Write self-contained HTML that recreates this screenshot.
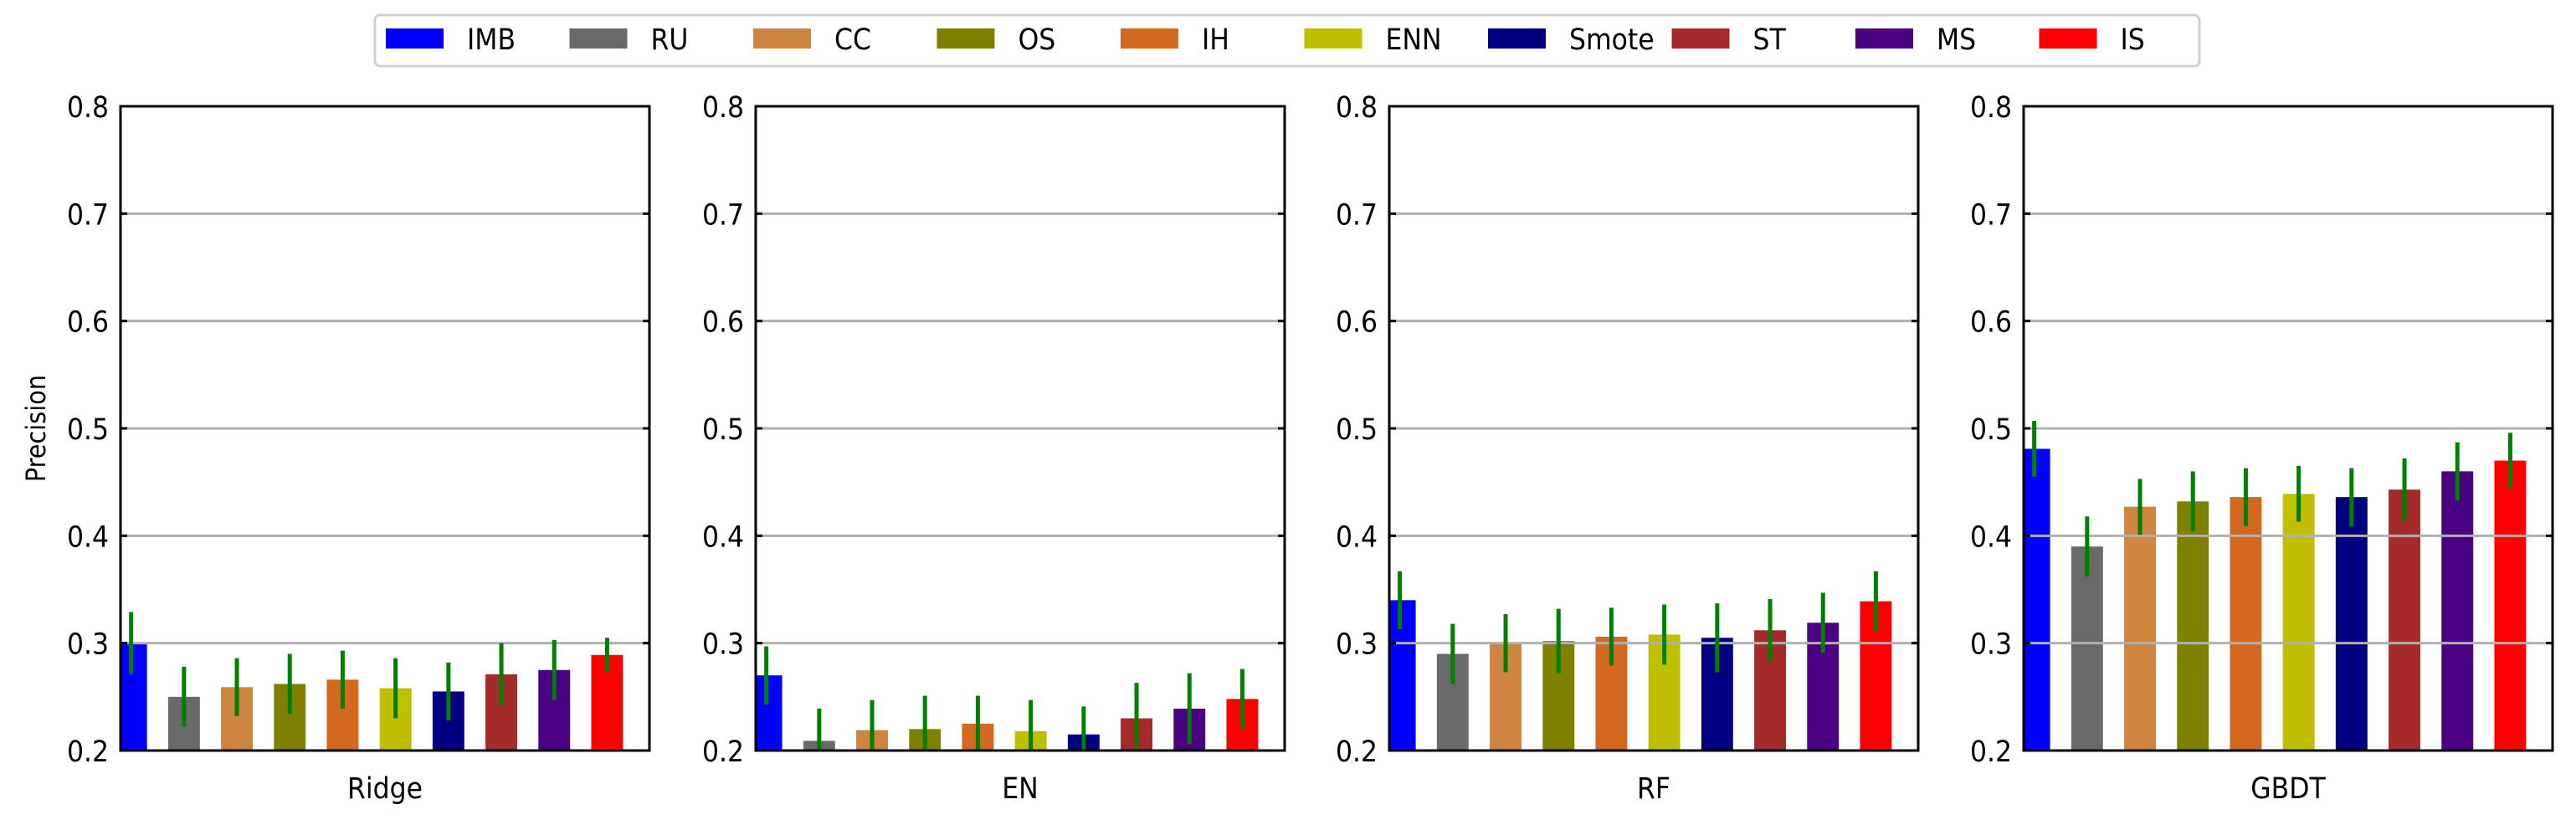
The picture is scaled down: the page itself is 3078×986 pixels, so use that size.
<!DOCTYPE html>
<html><head><meta charset="utf-8">
<style>
html,body{margin:0;padding:0;background:#fff;}
svg{display:block;font-family:"DejaVu Sans Condensed","DejaVu Sans","Liberation Sans",sans-serif;font-stretch:condensed;}
</style></head>
<body>
<svg id="chart" width="3078" height="986" viewBox="0 0 3078 986" xmlns="http://www.w3.org/2000/svg"></svg>
<script>
const methods = ["IMB","RU","CC","OS","IH","ENN","Smote","ST","MS","IS"];
const colors = ["#0000ff","#696969","#cd853f","#808000","#d2691e","#bfbf00","#000080","#a52a2a","#4b0082","#ff0000"];
const models = ["Ridge","EN","RF","GBDT"];
const ridgeVals = [0.300,0.250,0.259,0.262,0.266,0.258,0.255,0.271,0.275,0.289];
const ridgeErr  = [0.029,0.028,0.027,0.028,0.027,0.028,0.027,0.029,0.028,0.016];
const enVals    = [0.270,0.209,0.219,0.220,0.225,0.218,0.215,0.230,0.239,0.248];
const enErr     = [0.027,0.030,0.028,0.031,0.026,0.029,0.026,0.033,0.033,0.028];
const rfVals    = [0.340,0.290,0.300,0.302,0.306,0.308,0.305,0.312,0.319,0.339];
const rfErr     = [0.027,0.028,0.027,0.030,0.027,0.028,0.032,0.029,0.028,0.028];
const gbdtVals  = [0.481,0.390,0.427,0.432,0.436,0.439,0.436,0.443,0.460,0.470];
const gbdtErr   = [0.026,0.028,0.026,0.028,0.027,0.026,0.027,0.029,0.027,0.026];
const yTicks = [0.2,0.3,0.4,0.5,0.6,0.7,0.8];
const yTickLabels = ["0.2","0.3","0.4","0.5","0.6","0.7","0.8"];

const seriesVals = [ridgeVals,enVals,rfVals,gbdtVals];
const seriesErr = [ridgeErr,enErr,rfErr,gbdtErr];
const NS = "http://www.w3.org/2000/svg";
const svgEl = document.getElementById('chart');
function mk(tag, attrs, parent){const e=document.createElementNS(NS,tag);for(const k in attrs)e.setAttribute(k,attrs[k]);(parent||svgEl).appendChild(e);return e;}

const panelLeft = [144,903,1660,2418];
const panelW = 632, plotTop = 127, plotBottom = 897;
const yMin = 0.2, yMax = 0.8, xMin = -0.2, xMax = 9.8, barW = 0.6;

models.forEach((m, p) => {
  const L = panelLeft[p];
  const xs = v => L + (v - xMin) / (xMax - xMin) * panelW;
  const ys = v => plotBottom - (v - yMin) / (yMax - yMin) * (plotBottom - plotTop);
  const g = mk('g', {});
  
  
  const clipId = 'clip' + p;
  const cp = mk('clipPath', {id: clipId}, g);
  mk('rect', {x: L, y: plotTop, width: panelW, height: plotBottom - plotTop}, cp);
  const bars = mk('g', {'clip-path': 'url(#' + clipId + ')'}, g);
  seriesVals[p].forEach((v, i) => {
    const x0 = xs(i - barW / 2), x1 = xs(i + barW / 2);
    const r = mk('rect', {x: x0, y: ys(v), width: x1 - x0, height: ys(yMin) - ys(v), fill: colors[i]}, bars);
    
    
  });
  yTicks.forEach((t) => {
    if (t > yMin + 1e-9 && t < yMax - 1e-9) {
      const gl = mk('line', {x1: L, x2: L + panelW, y1: ys(t), y2: ys(t), stroke: '#b0b0b0', 'stroke-width': 3}, g);
      
      
    }
  });
  const errs = mk('g', {'clip-path': 'url(#' + clipId + ')'}, g);
  seriesVals[p].forEach((v, i) => {
    const e = seriesErr[p][i];
    const el = mk('line', {x1: xs(i), x2: xs(i), y1: ys(Math.max(yMin, v - e)), y2: ys(Math.min(yMax, v + e)), stroke: '#008000', 'stroke-width': 5}, errs);
    
    
  });
  yTicks.forEach((t, k) => {
    mk('line', {x1: L, x2: L + 8, y1: ys(t), y2: ys(t), stroke: '#000', 'stroke-width': 3}, g);
    mk('line', {x1: L + panelW - 8, x2: L + panelW, y1: ys(t), y2: ys(t), stroke: '#000', 'stroke-width': 3}, g);
    const tl = mk('text', {x: L - 14, y: ys(t) + 13, 'text-anchor': 'end', 'font-size': 35, fill: '#000'}, g);
    tl.textContent = yTickLabels[k];
    
    
  });
  const frame = mk('rect', {x: L, y: plotTop, width: panelW, height: plotBottom - plotTop, fill: 'none', stroke: '#000', 'stroke-width': 3}, g);
  
  
  const xl = mk('text', {x: L + panelW / 2, y: 954, 'text-anchor': 'middle', 'font-size': 35, fill: '#000'}, g);
  xl.textContent = m;
  
  
});

const yt = mk('text', {x: 0, y: 0, transform: 'translate(54,512) rotate(-90)', 'text-anchor': 'middle', 'font-size': 32, fill: '#000'});
yt.textContent = 'Precision';



const lg = mk('g', {});


mk('rect', {x: 448, y: 18, width: 2180, height: 61, rx: 6, fill: '#fff', stroke: '#d0d0d0', 'stroke-width': 3}, lg);
methods.forEach((name, i) => {
  const x = 461 + i * 219.5;
  const e = mk('g', {}, lg);
  
  
  mk('rect', {x: x, y: 34, width: 69, height: 24, fill: colors[i]}, e);
  const t = mk('text', {x: x + 97, y: 59, 'font-size': 35, fill: '#000'}, e);
  t.textContent = name;
});
</script>
</body></html>
